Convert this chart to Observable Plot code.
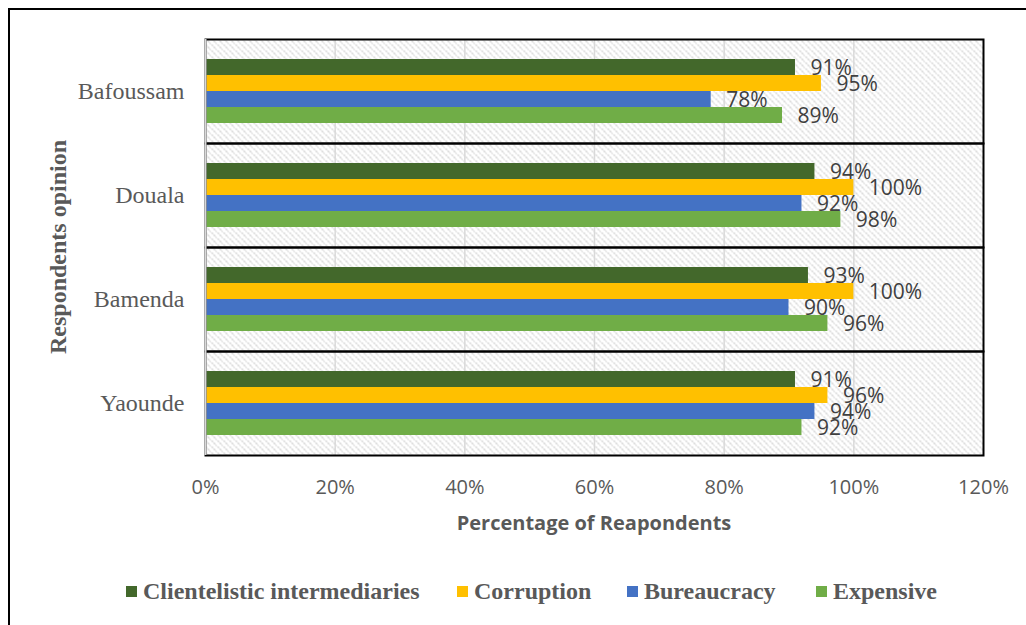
<!DOCTYPE html>
<html>
<head>
<meta charset="utf-8">
<script src="https://cdn.jsdelivr.net/npm/d3@7"></script>
<script src="https://cdn.jsdelivr.net/npm/@observablehq/plot@0.6"></script>
<style>
  html, body { margin: 0; padding: 0; background: #fff; overflow: hidden; width: 1026px; height: 625px; }
  #wrap { position: relative; width: 1026px; height: 625px; }
  #border { position: absolute; left: 8px; top: 8px; width: 1100px; height: 700px; border: 2px solid #000; box-sizing: border-box; }
  #chart { position: absolute; left: 0; top: 0; }
  #ytitle { position: absolute; left: 58px; top: 247px; transform: translate(-50%, -50%) rotate(-90deg); white-space: nowrap;
    font: bold 24px "Liberation Serif", "Times New Roman", serif; color: #595959; }
  #xtitle { position: absolute; left: 594px; top: 522px; transform: translate(-50%, -50%); white-space: nowrap;
    font: bold 20px "Open Sans", sans-serif; color: #595959; }
  #legend { position: absolute; top: 578px; left: 0; width: 1026px; height: 30px; }
  .item { position: absolute; top: 0; display: flex; align-items: center; white-space: nowrap;
    font: bold 24px "Liberation Serif", "Times New Roman", serif; color: #595959; }
  .sw { width: 11px; height: 11px; margin-right: 6px; display: inline-block; }
  g[aria-label="fy-axis tick label"] text { font: 24px "Liberation Serif", "Times New Roman", serif; fill: #595959; }
  g[aria-label="x-axis tick label"] text { font: 20px "Open Sans", sans-serif; fill: #595959; }
</style>
</head>
<body>
<div id="wrap">
  <div id="border"></div>
  <div id="chart"></div>
  <div id="ytitle">Respondents opinion</div>
  <div id="xtitle">Percentage of Reapondents</div>
  <div id="legend"></div>
</div>
<script>
// ---- data ----
const cities = ["Bafoussam", "Douala", "Bamenda", "Yaounde"];
const series = ["Clientelistic intermediaries", "Corruption", "Bureaucracy", "Expensive"];
const clientelistic = [91, 94, 93, 91];
const corruption   = [95, 100, 100, 96];
const bureaucracy  = [78, 92, 90, 94];
const expensive    = [89, 98, 96, 92];
const colors = ["#43682B", "#FFC000", "#4472C4", "#70AD47"];
const xTicks = [0, 20, 40, 60, 80, 100, 120];

const seriesValues = [clientelistic, corruption, bureaucracy, expensive];
const data = [];
cities.forEach((city, ci) => {
  series.forEach((s, si) => data.push({city, series: s, value: seriesValues[si][ci]}));
});

const chart = Plot.plot({
  width: 1026,
  height: 545,
  marginLeft: 205,
  marginRight: 43,
  marginTop: 38,
  marginBottom: 90,
  style: {background: "transparent", overflow: "visible"},
  x: {domain: [0, 120], ticks: xTicks, tickFormat: d => d + "%", tickSize: 0, tickPadding: 24, label: null},
  y: {domain: series, paddingInner: 0, paddingOuter: 1.25, axis: null},
  fy: {domain: cities, paddingInner: 0, paddingOuter: 0, axis: "left", label: null, tickSize: 0, tickPadding: 21},
  color: {domain: series, range: colors},
  marks: [
    Plot.frame({fill: "url(#hatch)", stroke: "none"}),
    Plot.gridX(xTicks.slice(1, -1), {stroke: "#d9d9d9", strokeOpacity: 1, strokeWidth: 1.5}),
    Plot.barX(data, {x: "value", y: "series", fy: "city", fill: "series"}),
    Plot.frame({stroke: "#000", strokeWidth: 2}),
    Plot.ruleX([0], {stroke: "#d9d9d9", strokeWidth: 2}),
    Plot.text(data, {x: "value", y: "series", fy: "city", text: d => d.value + "%",
      textAnchor: "start", dx: 15, dy: 1, fill: "#404040", fontSize: 21, fontFamily: "Open Sans"})
  ]
});

// hatch pattern
const ns = "http://www.w3.org/2000/svg";
const defs = document.createElementNS(ns, "defs");
const pat = document.createElementNS(ns, "pattern");
pat.setAttribute("id", "hatch");
pat.setAttribute("patternUnits", "userSpaceOnUse");
pat.setAttribute("width", "6");
pat.setAttribute("height", "6");
const bg = document.createElementNS(ns, "rect");
bg.setAttribute("width", "6"); bg.setAttribute("height", "6"); bg.setAttribute("fill", "#ffffff");
const p = document.createElementNS(ns, "path");
p.setAttribute("d", "M-1,-1 L7,7 M-4,2 L1,7 M5,-1 L7,1");
p.setAttribute("stroke", "#cfcfcf");
p.setAttribute("stroke-width", "1.4");
p.setAttribute("stroke-dasharray", "2,1");
pat.appendChild(bg); pat.appendChild(p); defs.appendChild(pat);
chart.insertBefore(defs, chart.firstChild);

document.getElementById("chart").appendChild(chart);

// legend
const legendX = [126, 457, 627, 816];
const legend = document.getElementById("legend");
series.forEach((s, i) => {
  const it = document.createElement("div");
  it.className = "item";
  it.style.left = legendX[i] + "px";
  it.innerHTML = `<span class="sw" style="background:${colors[i]}"></span><span>${s}</span>`;
  legend.appendChild(it);
});
</script>
</body>
</html>
